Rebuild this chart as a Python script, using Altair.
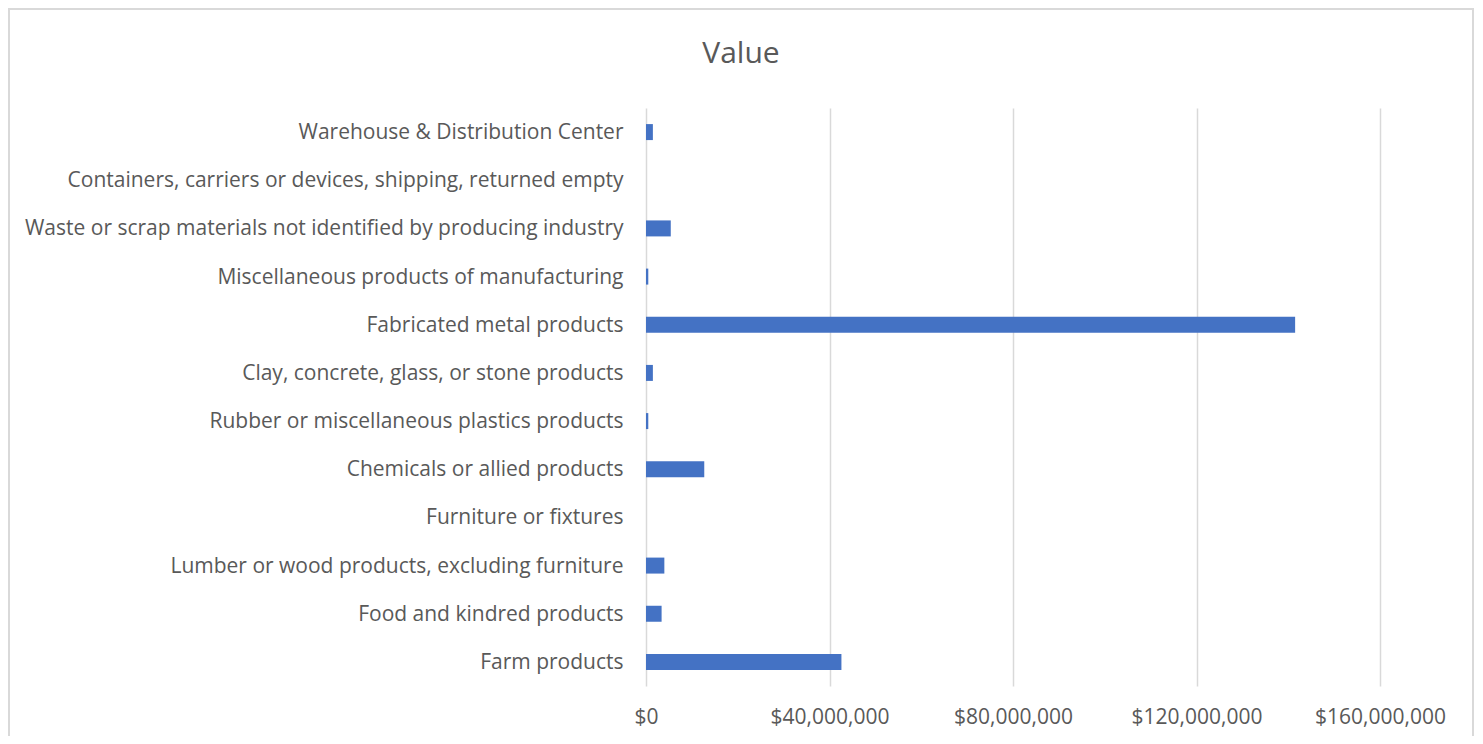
import altair as alt
import pandas as pd

categories = [
    "Warehouse & Distribution Center",
    "Containers, carriers or devices, shipping, returned empty",
    "Waste or scrap materials not identified by producing industry",
    "Miscellaneous products of manufacturing",
    "Fabricated metal products",
    "Clay, concrete, glass, or stone products",
    "Rubber or miscellaneous plastics products",
    "Chemicals or allied products",
    "Furniture or fixtures",
    "Lumber or wood products, excluding furniture",
    "Food and kindred products",
    "Farm products",
]
values = [
    1500000, 0, 5400000, 500000, 141500000, 1500000,
    500000, 12700000, 0, 4000000, 3400000, 42600000,
]
tick_values = [0, 40000000, 80000000, 120000000, 160000000]
chart_title = ["Value"]

df = pd.DataFrame({"category": categories, "value": values})
title_df = pd.DataFrame({"t": chart_title})

FONT = "Open Sans"
TEXT = "#595959"
GRID = "#d9d9d9"

bars = alt.Chart(df).mark_bar(color="#4472C4").encode(
    x=alt.X(
        "value:Q",
        scale=alt.Scale(domain=[0, 160000000], nice=False, zero=True),
        axis=alt.Axis(
            values=tick_values,
            format="$,.0f",
            title=None,
            grid=True,
            gridColor=GRID,
            gridWidth=1.5,
            domain=False,
            ticks=False,
            labelFont=FONT,
            labelFontSize=21,
            labelColor=TEXT,
            labelPadding=20,
            labelFlush=False,
            labelOverlap=False,
            labelBound=False,
        ),
    ),
    y=alt.Y(
        "category:N",
        sort=categories,
        scale=alt.Scale(paddingInner=0.668, paddingOuter=0.334),
        axis=alt.Axis(
            title=None,
            domain=False,
            ticks=False,
            grid=False,
            labelFont=FONT,
            labelFontSize=21,
            labelColor=TEXT,
            labelPadding=23,
            labelOffset=1,
            labelLimit=900,
        ),
    ),
)

border = alt.Chart(df).mark_rect(
    fill=None, stroke="#d9d9d9", strokeWidth=2, clip=False
).encode(
    x=alt.value(-637),
    x2=alt.value(827),
    y=alt.value(-99),
    y2=alt.value(660),
)

title = alt.Chart(title_df).mark_text(
    font=FONT, fontSize=30, color=TEXT, align="center", baseline="alphabetic", clip=False
).encode(
    text="t:N",
    x=alt.value(95),
    y=alt.value(-45),
)

chart = alt.layer(border, bars, title).properties(
    width=734,
    height=578,
    autosize=alt.AutoSizeParams(type="none"),
    padding={"left": 638, "top": 100, "right": 95, "bottom": 50},
).configure(background="white").configure_view(stroke=None)

chart.save("out.html", embed_options={"renderer": "svg", "actions": False})
